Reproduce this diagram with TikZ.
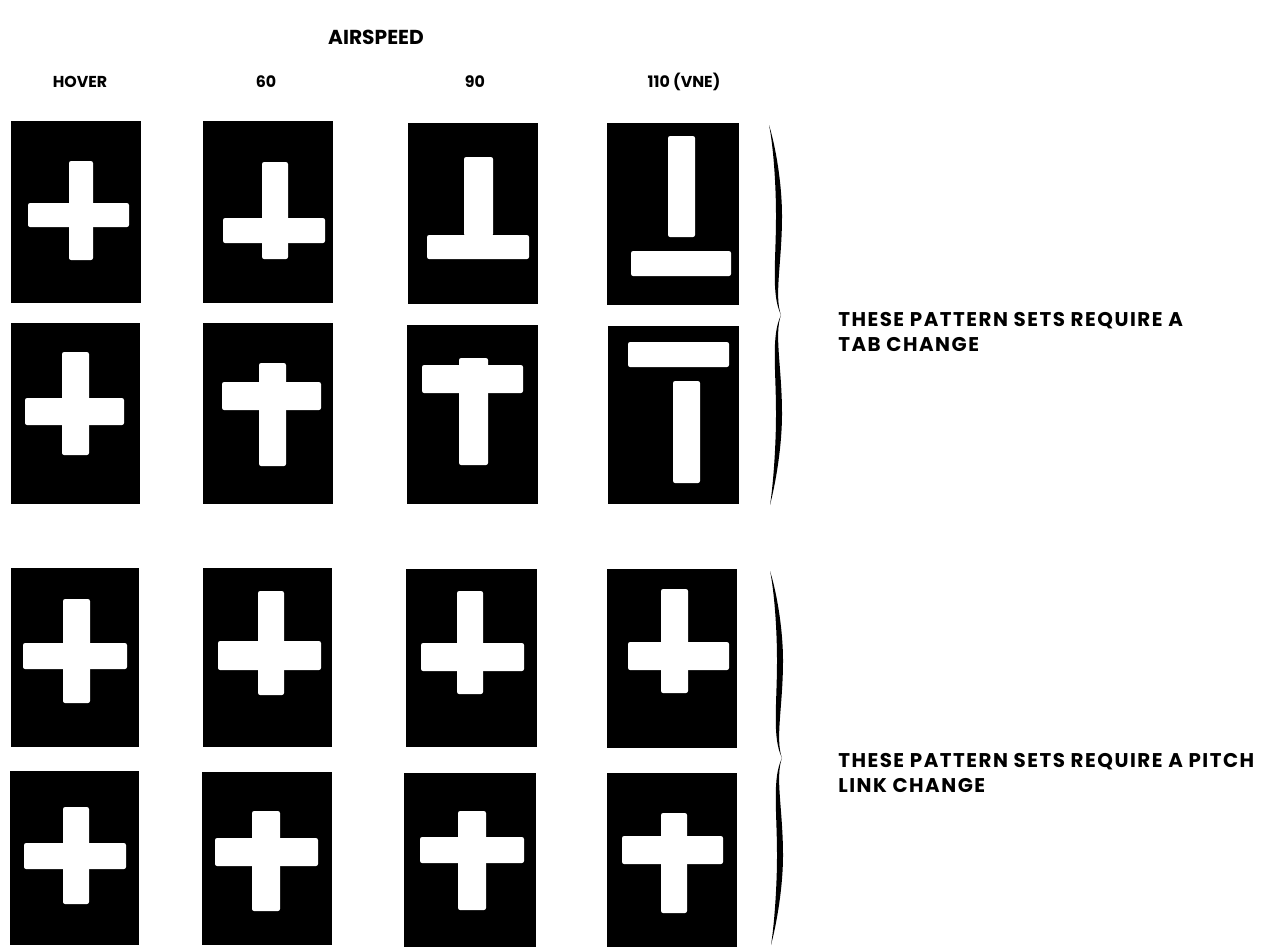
\documentclass[tikz,border=0pt]{standalone}
\usepackage{fontspec}
\setmainfont{Poppins}
\newfontfamily\widefont[LetterSpace=7.5]{Poppins}
\usetikzlibrary{positioning}
\tikzset{
  patbox/.style={fill=black},
  bar/.style={fill=white,rounded corners=1.2pt},
  colhead/.style={font=\bfseries\fontsize{9}{11}\selectfont,inner sep=0pt},
  caption/.style={font=\widefont\bfseries\fontsize{11.3}{14}\selectfont,align=left,anchor=west,inner sep=0pt}
}
\newcommand{\wavybrace}[3]{% x, centre y, half height
  \begin{scope}[shift={(#1,#2)},yscale=#3/100]
    \fill (0,-100) .. controls (6,-90) and (13,-70) .. (13,-52)
      .. controls (13,-28) and (5,-10) .. (12,0)
      .. controls (5,10) and (13,28) .. (13,52)
      .. controls (13,70) and (6,90) .. (1,100)
      .. controls (4,90) and (7,70) .. (7,52)
      .. controls (7,28) and (2,11) .. (12,0)
      .. controls (2,-11) and (7,-28) .. (7,-52)
      .. controls (7,-70) and (4,-90) .. (0,-100) -- cycle;
  \end{scope}}

\begin{document}
\begin{tikzpicture}[x=0.02cm,y=-0.02cm]
  \useasboundingbox (0,0) rectangle (1284,947);
  % headings
  \node[font=\bfseries\fontsize{11.5}{14}\selectfont,inner sep=0pt] (airspeed) at (376,37) {AIRSPEED};
  \node[colhead] (hover) at (80,82) {HOVER};
  \node[colhead] (sixty) at (266,82) {60};
  \node[colhead] (ninety) at (475,82) {90};
  \node[colhead] (vne) at (684,82) {110 (VNE)};
  % row 1
  \fill[patbox] (11,121) rectangle (141,303);
  \fill[bar] (69,161) rectangle (93,260);
  \fill[bar] (28,203) rectangle (129,227);
  \fill[patbox] (203,121) rectangle (333,303);
  \fill[bar] (262,162) rectangle (288,259);
  \fill[bar] (223,218) rectangle (325,243);
  \fill[patbox] (408,123) rectangle (538,304);
  \fill[bar] (464,157) rectangle (493,236);
  \fill[bar] (427,235) rectangle (529,259);
  \fill[patbox] (607,123) rectangle (739,305);
  \fill[bar] (668,136) rectangle (695,237);
  \fill[bar] (631,251) rectangle (731,276);
  % row 2
  \fill[patbox] (11,323) rectangle (140,504);
  \fill[bar] (62,352) rectangle (89,455);
  \fill[bar] (25,398) rectangle (124,425);
  \fill[patbox] (203,323) rectangle (333,504);
  \fill[bar] (259,363) rectangle (286,466);
  \fill[bar] (222,382) rectangle (321,410);
  \fill[patbox] (407,325) rectangle (538,504);
  \fill[bar] (422,365) rectangle (523,393);
  \fill[bar] (459,358) rectangle (488,465);
  \fill[patbox] (608,326) rectangle (739,504);
  \fill[bar] (628,342) rectangle (729,367);
  \fill[bar] (673,381) rectangle (700,483);
  % row 3
  \fill[patbox] (11,568) rectangle (139,747);
  \fill[bar] (63,599) rectangle (90,703);
  \fill[bar] (23,643) rectangle (127,669);
  \fill[patbox] (203,568) rectangle (332,747);
  \fill[bar] (258,591) rectangle (284,695);
  \fill[bar] (218,641) rectangle (321,670);
  \fill[patbox] (406,569) rectangle (537,747);
  \fill[bar] (457,591) rectangle (483,694);
  \fill[bar] (421,643) rectangle (524,671);
  \fill[patbox] (607,569) rectangle (737,748);
  \fill[bar] (661,589) rectangle (688,693);
  \fill[bar] (628,642) rectangle (729,670);
  % row 4
  \fill[patbox] (10,771) rectangle (139,945);
  \fill[bar] (63,807) rectangle (89,904);
  \fill[bar] (24,843) rectangle (126,869);
  \fill[patbox] (202,772) rectangle (332,945);
  \fill[bar] (252,811) rectangle (280,911);
  \fill[bar] (215,838) rectangle (318,866);
  \fill[patbox] (404,773) rectangle (536,947);
  \fill[bar] (458,811) rectangle (486,910);
  \fill[bar] (420,837) rectangle (524,863);
  \fill[patbox] (607,773) rectangle (737,947);
  \fill[bar] (661,813) rectangle (687,913);
  \fill[bar] (622,836) rectangle (723,864);
  % braces and notes
  \wavybrace{769}{315}{190}
  \wavybrace{770}{758}{187}
  \node[caption] (tabnote) at (838,332) {THESE PATTERN SETS REQUIRE A\\TAB CHANGE};
  \node[caption] (pitchnote) at (838,773) {THESE PATTERN SETS REQUIRE A PITCH\\LINK CHANGE};
\end{tikzpicture}
\end{document}
